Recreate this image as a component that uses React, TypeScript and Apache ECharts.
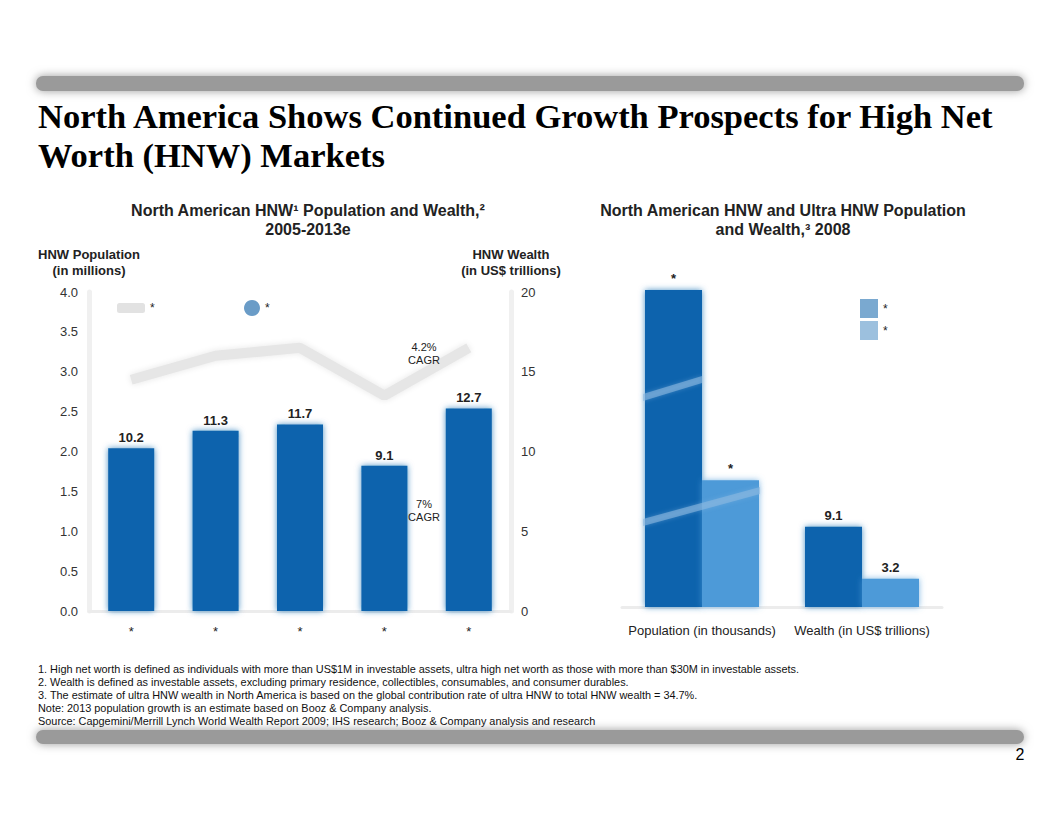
import React, { useEffect, useRef } from 'react';
import * as echarts from 'echarts';

// ---------- DATA ----------
const leftCategories = ['*', '*', '*', '*', '*'];
const hnwPopulation = [2.9, 3.2, 3.3, 2.7, 3.3]; // millions (left axis)
const hnwWealth = [10.2, 11.3, 11.7, 9.1, 12.7]; // US$ trillions (right axis)
const popAxis = { min: 0, max: 4, interval: 0.5 };
const wealthAxis = { min: 0, max: 20, interval: 5 };

const rightCategories = ['Population (in thousands)', 'Wealth (in US$ trillions)'];
const hnwValues = [36, 9.1];
const ultraValues = [14.4, 3.2];
const hnwLabels = ['*', '9.1'];
const ultraLabels = ['*', '3.2'];

const footnotes = [
  '1. High net worth is defined as individuals with more than US$1M in investable assets, ultra high net worth as those with more than $30M in investable assets.',
  '2. Wealth is defined as investable assets, excluding primary residence, collectibles, consumables, and consumer durables.',
  '3. The estimate of ultra HNW wealth in North America is based on the global contribution rate of ultra HNW to total HNW wealth = 34.7%.',
  'Note: 2013 population growth is an estimate based on Booz & Company analysis.',
  'Source: Capgemini/Merrill Lynch World Wealth Report 2009; IHS research; Booz & Company analysis and research',
];

const SANS = 'Liberation Sans, Arial, sans-serif';
const SERIF = 'Liberation Serif, Times New Roman, serif';
const DARK = '#0a64ad';
const LIGHT = '#4d9ad8';

export default function App() {
  const ref = useRef<HTMLDivElement>(null);
  useEffect(() => {
    if (!ref.current) return;
    const chart = echarts.init(ref.current, null, { renderer: 'svg' });

    const txt = (text: string, x: number, y: number, font: string, align = 'left', fill = '#222') => ({
      type: 'text',
      style: { text, x, y, font, fill, align, verticalAlign: 'middle' },
      z: 100,
    });

    const graphics: any[] = [
      {
        type: 'rect',
        shape: { x: 36, y: 76, width: 988, height: 15, r: 7 },
        style: { fill: '#9a9a9a', shadowBlur: 10, shadowColor: '#9a9a9a' },
      },
      {
        type: 'rect',
        shape: { x: 36, y: 730, width: 988, height: 14, r: 7 },
        style: { fill: '#9a9a9a', shadowBlur: 10, shadowColor: '#9a9a9a' },
      },
      txt('North America Shows Continued Growth Prospects for High Net', 38, 116, `bold 34.5px ${SERIF}`, 'left', '#000'),
      txt('Worth (HNW) Markets', 38, 155, `bold 34.5px ${SERIF}`, 'left', '#000'),
      txt('North American HNW\u00b9 Population and Wealth,\u00b2', 308, 210, `bold 16px ${SANS}`, 'center'),
      txt('2005-2013e', 308, 229, `bold 16px ${SANS}`, 'center'),
      txt('North American HNW and Ultra HNW Population', 783, 210, `bold 16px ${SANS}`, 'center'),
      txt('and Wealth,\u00b3 2008', 783, 229, `bold 16px ${SANS}`, 'center'),
      txt('HNW Population', 89, 254, `bold 13px ${SANS}`, 'center'),
      txt('(in millions)', 89, 270, `bold 13px ${SANS}`, 'center'),
      txt('HNW Wealth', 511, 254, `bold 13px ${SANS}`, 'center'),
      txt('(in US$ trillions)', 511, 270, `bold 13px ${SANS}`, 'center'),
      txt('4.2%', 424, 347, `11px ${SANS}`, 'center'),
      txt('CAGR', 424, 360, `11px ${SANS}`, 'center'),
      txt('7%', 424, 504, `11px ${SANS}`, 'center'),
      txt('CAGR', 424, 517, `11px ${SANS}`, 'center'),
      txt('2', 1020, 754, `16px ${SANS}`, 'center', '#000'),
      // break stripes on the population bar
      {
        type: 'polygon',
        shape: { points: [[643, 394], [702, 376], [702, 383], [643, 401]] },
        style: { fill: 'rgba(140,185,225,0.6)', shadowBlur: 4, shadowColor: 'rgba(140,185,225,0.6)' },
        z: 50,
      },
      {
        type: 'polygon',
        shape: { points: [[643, 519], [760, 487], [760, 494], [643, 526]] },
        style: { fill: 'rgba(140,185,225,0.6)', shadowBlur: 4, shadowColor: 'rgba(140,185,225,0.6)' },
        z: 50,
      },
    ];
    footnotes.forEach((f, i) => graphics.push(txt(f, 38, 669 + i * 13, `10.9px ${SANS}`, 'left', '#111')));

    const labelStyle = { fontFamily: SANS, fontSize: 13, fontWeight: 'bold', color: '#222' };

    chart.setOption({
      animation: false,
      backgroundColor: '#fff',
      textStyle: { fontFamily: SANS },
      grid: [
        { left: 89, top: 292, width: 422, height: 319 },
        { left: 622, top: 290, width: 320, height: 317 },
      ],
      legend: [
        {
          data: [{ name: 'HNW Population', icon: 'roundRect', itemStyle: { color: '#e2e2e2' } }],
          left: 112, top: 297, itemWidth: 28, itemHeight: 10, formatter: () => '*',
          textStyle: { fontSize: 12, color: '#222', fontFamily: SANS },
        },
        {
          data: [{ name: 'HNW Wealth', icon: 'circle', itemStyle: { color: '#6a9cc7' } }],
          left: 239, top: 295, itemWidth: 16, itemHeight: 16, formatter: () => '*',
          textStyle: { fontSize: 12, color: '#222', fontFamily: SANS },
        },
        {
          data: [
            { name: 'HNW', icon: 'rect', itemStyle: { color: '#7aa9d0' } },
            { name: 'Ultra HNW', icon: 'rect', itemStyle: { color: '#9cc0de' } },
          ],
          orient: 'vertical', left: 855, top: 294, itemWidth: 18, itemHeight: 19, itemGap: 3,
          formatter: () => '*',
          textStyle: { fontSize: 12, color: '#222', fontFamily: SANS },
        },
      ],
      xAxis: [
        {
          type: 'category', gridIndex: 0, data: leftCategories,
          axisTick: { show: false },
          axisLine: { lineStyle: { color: '#ececec', width: 3 } },
          axisLabel: { margin: 14, fontSize: 13, color: '#222', fontFamily: SANS, interval: 0 },
        },
        {
          type: 'category', gridIndex: 1, data: rightCategories,
          axisTick: { show: false },
          axisLine: { lineStyle: { color: '#ececec', width: 3 } },
          axisLabel: { margin: 17, fontSize: 13, color: '#222', fontFamily: SANS, interval: 0 },
        },
      ],
      yAxis: [
        {
          type: 'value', gridIndex: 0, position: 'left', ...popAxis,
          splitLine: { show: false }, axisTick: { show: false },
          axisLine: { show: true, lineStyle: { color: '#f0f0f0', width: 5 } },
          axisLabel: { margin: 11, fontSize: 13, color: '#333', fontFamily: SANS, formatter: (v: number) => v.toFixed(1) },
        },
        {
          type: 'value', gridIndex: 0, position: 'right', ...wealthAxis,
          splitLine: { show: false }, axisTick: { show: false },
          axisLine: { show: true, lineStyle: { color: '#f0f0f0', width: 5 } },
          axisLabel: { margin: 10, fontSize: 13, color: '#333', fontFamily: SANS },
        },
        { type: 'value', gridIndex: 1, min: 0, max: 36, show: false },
      ],
      series: [
        {
          name: 'HNW Wealth', type: 'bar', xAxisIndex: 0, yAxisIndex: 1, data: hnwWealth,
          barWidth: 46,
          itemStyle: { color: DARK, shadowBlur: 6, shadowColor: 'rgba(10,100,173,0.7)' },
          label: { show: true, position: 'top', distance: 4, ...labelStyle },
        },
        {
          name: 'HNW Population', type: 'line', xAxisIndex: 0, yAxisIndex: 0, data: hnwPopulation,
          symbol: 'none',
          lineStyle: { color: '#e6e6e6', width: 10, shadowBlur: 6, shadowColor: '#e6e6e6' },
          itemStyle: { color: '#e2e2e2' },
          label: { show: true, position: 'top', distance: 7, ...labelStyle },
        },
        {
          name: 'HNW', type: 'bar', xAxisIndex: 1, yAxisIndex: 2, data: hnwValues,
          barWidth: 57, barGap: '0%',
          itemStyle: { color: DARK, shadowBlur: 6, shadowColor: 'rgba(10,100,173,0.7)' },
          label: { show: true, position: 'top', distance: 5, ...labelStyle, formatter: (p: any) => hnwLabels[p.dataIndex] },
        },
        {
          name: 'Ultra HNW', type: 'bar', xAxisIndex: 1, yAxisIndex: 2, data: ultraValues,
          barWidth: 57, barGap: '0%',
          itemStyle: { color: LIGHT, shadowBlur: 6, shadowColor: 'rgba(77,154,216,0.7)' },
          label: { show: true, position: 'top', distance: 5, ...labelStyle, formatter: (p: any) => ultraLabels[p.dataIndex] },
        },
      ],
      graphic: graphics,
    });
    return () => chart.dispose();
  }, []);

  return (
    <div
      ref={ref}
      style={{ position: 'absolute', left: 0, top: 0, width: 1062, height: 822, background: '#fff' }}
    />
  );
}
